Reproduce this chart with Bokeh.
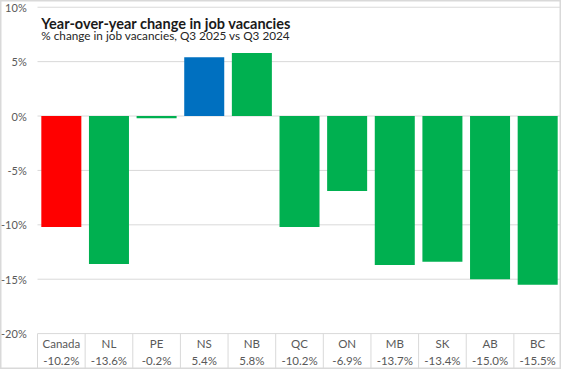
from bokeh.plotting import figure
from bokeh.models import Range1d, ColumnDataSource, Label
from bokeh.core.properties import value
from bokeh.embed import file_html
from bokeh.resources import INLINE

categories = ["Canada", "NL", "PE", "NS", "NB", "QC", "ON", "MB", "SK", "AB", "BC"]
changes = [-10.2, -13.6, -0.2, 5.4, 5.8, -10.2, -6.9, -13.7, -13.4, -15.0, -15.5]
bar_colors = ["#FF0000", "#00B050", "#00B050", "#0070C0", "#00B050", "#00B050",
              "#00B050", "#00B050", "#00B050", "#00B050", "#00B050"]
value_labels = ["-10.2%", "-13.6%", "-0.2%", "5.4%", "5.8%", "-10.2%", "-6.9%",
                "-13.7%", "-13.4%", "-15.0%", "-15.5%"]
yticks = [-20, -15, -10, -5, 0, 5, 10]
ytick_labels = ["-20%", "-15%", "-10%", "-5%", "0%", "5%", "10%"]
title_text = "Year-over-year change in job vacancies"
subtitle_text = "% change in job vacancies,  Q3 2025 vs Q3 2024"

FONT = "Lato"
GRID = "#d9d9d9"
TXT = "#595959"

n = len(categories)
xs = list(range(n))
xmin, xmax = -1.277, n - 0.5
ymin, ymax = -23.3, 10.62

p = figure(width=561, height=369, output_backend="svg", toolbar_location=None,
           x_range=Range1d(xmin, xmax), y_range=Range1d(ymin, ymax),
           min_border=0, x_axis_location=None, y_axis_location=None)
p.outline_line_color = GRID
p.outline_line_width = 2
p.background_fill_color = "white"
p.border_fill_color = "white"
p.grid.visible = False

# horizontal gridlines (value scale)
p.segment(x0=[-0.5] * len(yticks), y0=yticks, x1=[xmax] * len(yticks), y1=yticks,
          line_color=GRID, line_width=1)
# value-axis tick labels
p.text(x=[-0.727] * len(yticks), y=yticks, text=ytick_labels, text_align="right",
       text_baseline="middle", text_font=value(FONT), text_font_size="11px", text_color=TXT)

src = ColumnDataSource(dict(x=xs, top=changes, color=bar_colors, cat=categories, lab=value_labels))
p.vbar(x="x", top="top", bottom=0, width=0.84, fill_color="color", line_color=None, source=src)

# data table below the category axis
bounds = [i - 0.5 for i in range(n + 1)]
p.segment(x0=bounds, y0=[yticks[0]] * len(bounds), x1=bounds, y1=[ymin] * len(bounds),
          line_color=GRID, line_width=1)
p.text(x="x", y=-20.92, text="cat", source=src, text_align="center", text_baseline="middle",
       text_font=value(FONT), text_font_size="11.5px", text_color=TXT)
p.text(x="x", y=-22.47, text="lab", source=src, text_align="center", text_baseline="middle",
       text_font=value(FONT), text_font_size="11.5px", text_color=TXT)

p.add_layout(Label(x=-0.42, y=8.55, text=title_text, text_font=FONT, text_font_style="bold",
                   text_font_size="14.5px", text_color="#1a1a1a", text_baseline="alphabetic"))
p.add_layout(Label(x=-0.42, y=7.44, text=subtitle_text, text_font=FONT,
                   text_font_size="11.75px", text_color="#262626", text_baseline="alphabetic"))

open("out.html", "w").write(file_html(p, INLINE))
